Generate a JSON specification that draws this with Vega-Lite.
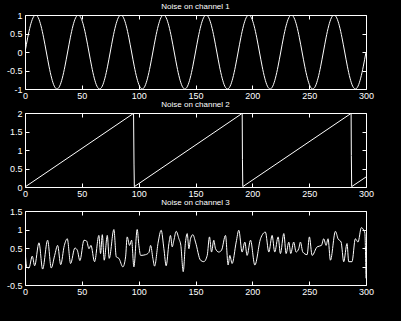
{
  "$schema": "https://vega.github.io/schema/vega-lite/v6.json",
  "background": "black",
  "padding": {"left": 5, "top": 2, "right": 27, "bottom": 25},
  "spacing": -1,
  "datasets": {
    "ch1": [
      {"t":0,"v":0},{"t":2.34,"v":0.3827},{"t":4.69,"v":0.7071},{"t":7.03,"v":0.9239},{"t":9.38,"v":1},{"t":11.72,"v":0.9239},{"t":14.06,"v":0.7071},{"t":16.41,"v":0.3827},{"t":18.75,"v":0},{"t":21.09,"v":-0.3827},{"t":23.44,"v":-0.7071},{"t":25.78,"v":-0.9239},{"t":28.13,"v":-1},{"t":30.47,"v":-0.9239},{"t":32.81,"v":-0.7071},{"t":35.16,"v":-0.3827},
      {"t":37.5,"v":0},{"t":39.84,"v":0.3827},{"t":42.19,"v":0.7071},{"t":44.53,"v":0.9239},{"t":46.88,"v":1},{"t":49.22,"v":0.9239},{"t":51.56,"v":0.7071},{"t":53.91,"v":0.3827},{"t":56.25,"v":0},{"t":58.59,"v":-0.3827},{"t":60.94,"v":-0.7071},{"t":63.28,"v":-0.9239},{"t":65.63,"v":-1},{"t":67.97,"v":-0.9239},{"t":70.31,"v":-0.7071},{"t":72.66,"v":-0.3827},
      {"t":75,"v":0},{"t":77.34,"v":0.3827},{"t":79.69,"v":0.7071},{"t":82.03,"v":0.9239},{"t":84.38,"v":1},{"t":86.72,"v":0.9239},{"t":89.06,"v":0.7071},{"t":91.41,"v":0.3827},{"t":93.75,"v":0},{"t":96.09,"v":-0.3827},{"t":98.44,"v":-0.7071},{"t":100.78,"v":-0.9239},{"t":103.13,"v":-1},{"t":105.47,"v":-0.9239},{"t":107.81,"v":-0.7071},{"t":110.16,"v":-0.3827},
      {"t":112.5,"v":0},{"t":114.84,"v":0.3827},{"t":117.19,"v":0.7071},{"t":119.53,"v":0.9239},{"t":121.88,"v":1},{"t":124.22,"v":0.9239},{"t":126.56,"v":0.7071},{"t":128.91,"v":0.3827},{"t":131.25,"v":0},{"t":133.59,"v":-0.3827},{"t":135.94,"v":-0.7071},{"t":138.28,"v":-0.9239},{"t":140.63,"v":-1},{"t":142.97,"v":-0.9239},{"t":145.31,"v":-0.7071},{"t":147.66,"v":-0.3827},
      {"t":150,"v":0},{"t":152.34,"v":0.3827},{"t":154.69,"v":0.7071},{"t":157.03,"v":0.9239},{"t":159.38,"v":1},{"t":161.72,"v":0.9239},{"t":164.06,"v":0.7071},{"t":166.41,"v":0.3827},{"t":168.75,"v":0},{"t":171.09,"v":-0.3827},{"t":173.44,"v":-0.7071},{"t":175.78,"v":-0.9239},{"t":178.13,"v":-1},{"t":180.47,"v":-0.9239},{"t":182.81,"v":-0.7071},{"t":185.16,"v":-0.3827},
      {"t":187.5,"v":0},{"t":189.84,"v":0.3827},{"t":192.19,"v":0.7071},{"t":194.53,"v":0.9239},{"t":196.88,"v":1},{"t":199.22,"v":0.9239},{"t":201.56,"v":0.7071},{"t":203.91,"v":0.3827},{"t":206.25,"v":0},{"t":208.59,"v":-0.3827},{"t":210.94,"v":-0.7071},{"t":213.28,"v":-0.9239},{"t":215.63,"v":-1},{"t":217.97,"v":-0.9239},{"t":220.31,"v":-0.7071},{"t":222.66,"v":-0.3827},
      {"t":225,"v":0},{"t":227.34,"v":0.3827},{"t":229.69,"v":0.7071},{"t":232.03,"v":0.9239},{"t":234.38,"v":1},{"t":236.72,"v":0.9239},{"t":239.06,"v":0.7071},{"t":241.41,"v":0.3827},{"t":243.75,"v":0},{"t":246.09,"v":-0.3827},{"t":248.44,"v":-0.7071},{"t":250.78,"v":-0.9239},{"t":253.13,"v":-1},{"t":255.47,"v":-0.9239},{"t":257.81,"v":-0.7071},{"t":260.16,"v":-0.3827},
      {"t":262.5,"v":0},{"t":264.84,"v":0.3827},{"t":267.19,"v":0.7071},{"t":269.53,"v":0.9239},{"t":271.88,"v":1},{"t":274.22,"v":0.9239},{"t":276.56,"v":0.7071},{"t":278.91,"v":0.3827},{"t":281.25,"v":0},{"t":283.59,"v":-0.3827},{"t":285.94,"v":-0.7071},{"t":288.28,"v":-0.9239},{"t":290.63,"v":-1},{"t":292.97,"v":-0.9239},{"t":295.31,"v":-0.7071},{"t":297.66,"v":-0.3827},
      {"t":300,"v":0}
    ],
    "ch2": [
      {"t":0,"v":0},{"t":95.5,"v":1.99},{"t":95.9,"v":0.62},{"t":96.2,"v":0.01},{"t":191.1,"v":1.99},{"t":191.3,"v":0.75},{"t":191.6,"v":0.01},{"t":286.9,"v":1.99},{"t":287.1,"v":0.85},{"t":287.4,"v":0.01},{"t":300,"v":0.27}
    ],
    "ch3": [
      {"t":0,"v":0.48},{"t":1.5,"v":-0.01},{"t":3.5,"v":-0.04},{"t":6.4,"v":0.28},{"t":8.5,"v":0.02},{"t":12.3,"v":0.64},{"t":15.5,"v":-0.07},{"t":19.9,"v":0.71},{"t":23.1,"v":-0.04},{"t":26.1,"v":0.3},{"t":28.7,"v":0.57},{"t":31.4,"v":0.05},{"t":34.6,"v":0.57},{"t":37.2,"v":0.75},{"t":40.1,"v":0.08},{"t":43.9,"v":0.5},{"t":46,"v":0.44},{"t":48.3,"v":0.16},{"t":51.9,"v":0.71},{"t":54.2,"v":0.69},{"t":56.3,"v":0.48},{"t":58,"v":0.57},{"t":61.2,"v":0.13},{"t":65,"v":0.84},{"t":66.5,"v":0.35},{"t":68,"v":0.86},{"t":69.7,"v":0.17},{"t":72.4,"v":0.84},{"t":74.1,"v":0.22},{"t":78.2,"v":1},{"t":80.3,"v":0.26},{"t":82.6,"v":0.22},{"t":86.1,"v":-0.01},{"t":88.5,"v":0.26},{"t":89.9,"v":0.8},{"t":92,"v":0.57},{"t":93.8,"v":0.71},{"t":95.8,"v":-0.01},{"t":98.7,"v":1},{"t":100.2,"v":0.57},{"t":101.7,"v":0.3},{"t":106.1,"v":0.32},{"t":109,"v":0.38},{"t":110.5,"v":0.57},{"t":112.5,"v":0.22},{"t":114,"v":0.01},{"t":117.2,"v":0.66},{"t":119.8,"v":0.98},{"t":122.2,"v":0.48},{"t":124.2,"v":0.02},{"t":126.6,"v":0.62},{"t":128,"v":0.84},{"t":129.5,"v":0.53},{"t":131,"v":0.71},{"t":133,"v":0.95},{"t":135.4,"v":0.75},{"t":137.1,"v":0.57},{"t":139.2,"v":-0.14},{"t":141.2,"v":0.66},{"t":142.7,"v":0.89},{"t":144.2,"v":0.48},{"t":145.6,"v":0.75},{"t":147.7,"v":0.86},{"t":150,"v":0.66},{"t":154.4,"v":0.17},{"t":157.3,"v":0.13},{"t":160.3,"v":0.3},{"t":162.3,"v":0.8},{"t":164.1,"v":0.39},{"t":166.1,"v":0.71},{"t":167.6,"v":0.48},{"t":170.5,"v":0.39},{"t":172.9,"v":0.44},{"t":176.4,"v":0.84},{"t":178.7,"v":0.04},{"t":180.2,"v":0.3},{"t":182.2,"v":0.08},{"t":185.8,"v":0.66},{"t":188.1,"v":0.98},{"t":191,"v":0.39},{"t":193.4,"v":0.66},{"t":195.4,"v":0.3},{"t":198.4,"v":0.71},{"t":202.2,"v":0.04},{"t":207.2,"v":0.75},{"t":211.5,"v":0.93},{"t":214.5,"v":0.39},{"t":217.4,"v":0.84},{"t":219.7,"v":0.39},{"t":222.7,"v":0.8},{"t":224.7,"v":0.35},{"t":227.7,"v":0.89},{"t":229.7,"v":0.35},{"t":232.1,"v":0.66},{"t":233.8,"v":0.35},{"t":236.4,"v":0.66},{"t":238.5,"v":0.39},{"t":240.8,"v":0.48},{"t":242.3,"v":0.66},{"t":244.4,"v":0.39},{"t":248.2,"v":0.32},{"t":250.2,"v":0.8},{"t":252.6,"v":0.3},{"t":257,"v":0.53},{"t":260.8,"v":0.57},{"t":262.8,"v":0.75},{"t":264.9,"v":0.57},{"t":266.6,"v":0.75},{"t":268.7,"v":0.17},{"t":273.1,"v":0.95},{"t":275.4,"v":0.75},{"t":278.1,"v":0.66},{"t":280.4,"v":0.13},{"t":283.3,"v":0.62},{"t":284.8,"v":0.13},{"t":287.7,"v":0.13},{"t":290.6,"v":0.75},{"t":293,"v":0.66},{"t":295.9,"v":1.05},{"t":298,"v":0.98},{"t":299,"v":0.9},{"t":300,"v":-0.32}
    ]
  },
  "vconcat": [
    {
      "title": "Noise on channel 1",
      "width": 341, "height": 74,
      "data": {"name": "ch1"},
      "layer": [
        {"mark": {"type": "line", "color": "white", "strokeWidth": 1, "interpolate": "monotone", "clip": true},
         "encoding": {
           "x": {"field": "t", "type": "quantitative", "scale": {"domain": [0, 300], "nice": false}, "axis": {"values": [0,50,100,150,200,250,300], "title": null}},
           "y": {"field": "v", "type": "quantitative", "scale": {"domain": [-1, 1], "nice": false}, "axis": {"values": [-1,-0.5,0,0.5,1], "title": null, "orient": "left"}}
         }},
        {"mark": {"type": "line", "strokeOpacity": 0},
         "encoding": {
           "x": {"field": "t", "type": "quantitative", "axis": {"orient": "top", "values": [0,50,100,150,200,250,300], "labels": false, "title": null}},
           "y": {"field": "v", "type": "quantitative", "axis": {"orient": "right", "values": [-1,-0.5,0,0.5,1], "labels": false, "title": null}}
         }}
      ],
      "resolve": {"axis": {"x": "independent", "y": "independent"}}
    },
    {
      "title": "Noise on channel 2",
      "width": 341, "height": 74,
      "data": {"name": "ch2"},
      "layer": [
        {"mark": {"type": "line", "color": "white", "strokeWidth": 1, "clip": true},
         "encoding": {
           "x": {"field": "t", "type": "quantitative", "scale": {"domain": [0, 300], "nice": false}, "axis": {"values": [0,50,100,150,200,250,300], "title": null}},
           "y": {"field": "v", "type": "quantitative", "scale": {"domain": [0, 2], "nice": false}, "axis": {"values": [0,0.5,1,1.5,2], "title": null, "orient": "left"}}
         }},
        {"mark": {"type": "line", "strokeOpacity": 0},
         "encoding": {
           "x": {"field": "t", "type": "quantitative", "axis": {"orient": "top", "values": [0,50,100,150,200,250,300], "labels": false, "title": null}},
           "y": {"field": "v", "type": "quantitative", "axis": {"orient": "right", "values": [0,0.5,1,1.5,2], "labels": false, "title": null}}
         }}
      ],
      "resolve": {"axis": {"x": "independent", "y": "independent"}}
    },
    {
      "title": "Noise on channel 3",
      "width": 341, "height": 74,
      "data": {"name": "ch3"},
      "layer": [
        {"mark": {"type": "line", "color": "white", "strokeWidth": 1, "interpolate": "monotone", "clip": true},
         "encoding": {
           "x": {"field": "t", "type": "quantitative", "scale": {"domain": [0, 300], "nice": false}, "axis": {"values": [0,50,100,150,200,250,300], "title": null}},
           "y": {"field": "v", "type": "quantitative", "scale": {"domain": [-0.5, 1.5], "nice": false}, "axis": {"values": [-0.5,0,0.5,1,1.5], "title": null, "orient": "left"}}
         }},
        {"mark": {"type": "line", "strokeOpacity": 0},
         "encoding": {
           "x": {"field": "t", "type": "quantitative", "axis": {"orient": "top", "values": [0,50,100,150,200,250,300], "labels": false, "title": null}},
           "y": {"field": "v", "type": "quantitative", "axis": {"orient": "right", "values": [-0.5,0,0.5,1,1.5], "labels": false, "title": null}}
         }}
      ],
      "resolve": {"axis": {"x": "independent", "y": "independent"}}
    }
  ],
  "config": {
    "background": "black",
    "view": {"stroke": "white", "strokeWidth": 1},
    "axis": {"grid": false, "domain": false, "tickColor": "white", "tickSize": -4, "labelColor": "white", "labelFont": "Liberation Sans", "labelFontSize": 9, "labelOverlap": false, "labelFlush": false, "labelExpr": "'' + datum.value"},
    "axisX": {"labelPadding": 6},
    "axisY": {"labelPadding": 7},
    "title": {"color": "white", "font": "Liberation Sans", "fontSize": 8, "fontWeight": "normal", "offset": 0.5, "anchor": "middle"}
  }
}
